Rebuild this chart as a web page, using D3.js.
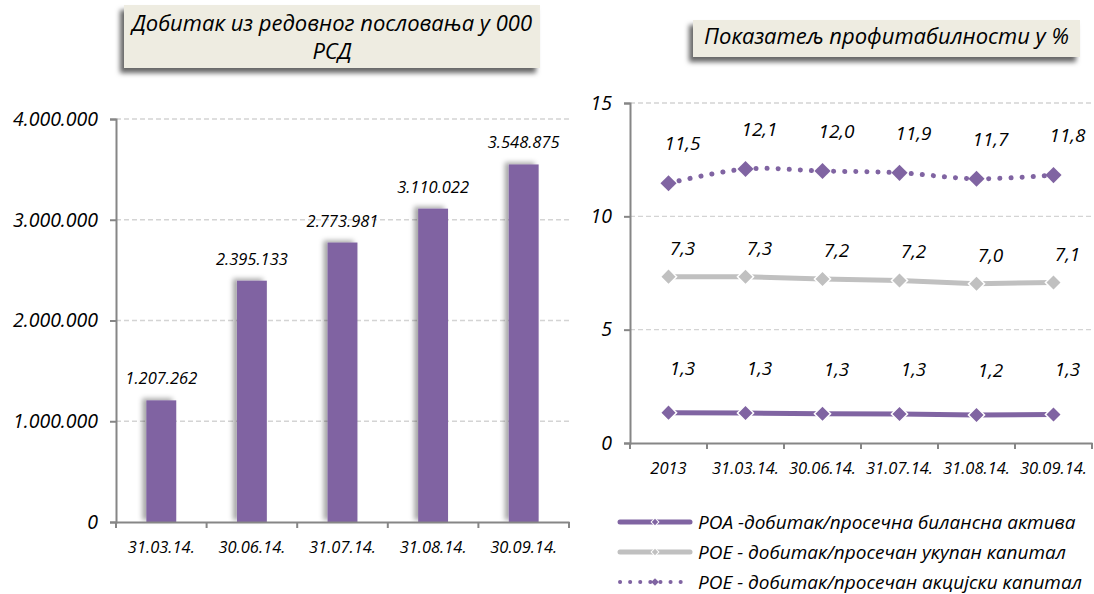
<!DOCTYPE html>
<html>
<head>
<meta charset="utf-8">
<script src="https://cdn.jsdelivr.net/npm/d3@7"></script>
<style>
  body { margin: 0; background: #fff; }
  text { font-family: "Open Sans", "Noto Sans", sans-serif; font-style: italic; fill: #000; }
</style>
</head>
<body>
<div id="chart"></div>
<script>
// left chart data
const barDates = ["31.03.14.", "30.06.14.", "31.07.14.", "31.08.14.", "30.09.14."];
const profit = [1207262, 2395133, 2773981, 3110022, 3548875];
const profitTicks = [0, 1000000, 2000000, 3000000, 4000000];

// right chart data
const lineDates = ["2013", "31.03.14.", "30.06.14.", "31.07.14.", "31.08.14.", "30.09.14."];
const roa = [1.34, 1.32, 1.29, 1.28, 1.24, 1.26];
const roeTotal = [7.34, 7.33, 7.24, 7.17, 7.03, 7.08];
const roeShare = [11.46, 12.09, 12.0, 11.92, 11.66, 11.82];
const pctTicks = [0, 5, 10, 15];
const seriesNames = [
  "РОА -добитак/просечна билансна актива",
  "РОЕ - добитак/просечан укупан капитал",
  "РОЕ - добитак/просечан акцијски капитал"
];

const purple = "#8064A2", grey = "#C0C0C0", axisCol = "#868686", gridCol = "#D4D4D4";
const loc = d3.formatLocale({decimal: ",", thousands: ".", grouping: [3], currency: ["", ""]});
const fmtInt = loc.format(",d");
const fmt1 = loc.format(".1f");

const width = 1094, height = 594;
const svg = d3.select("#chart").append("svg")
  .attr("width", width).attr("height", height);

const defs = svg.append("defs");
defs.append("filter").attr("id", "barShadow").attr("x", "-50%").attr("y", "-10%").attr("width", "200%").attr("height", "120%")
  .append("feDropShadow").attr("dx", -4).attr("dy", -2).attr("stdDeviation", 2.5)
  .attr("flood-color", "#000").attr("flood-opacity", 0.35);
defs.append("filter").attr("id", "boxShadow").attr("x", "-10%").attr("y", "-20%").attr("width", "120%").attr("height", "150%")
  .append("feDropShadow").attr("dx", -4).attr("dy", 5).attr("stdDeviation", 2.5)
  .attr("flood-color", "#000").attr("flood-opacity", 0.6);

// ---------- title boxes ----------
function titleBox(x, y, w, h, lines, size) {
  const g = svg.append("g");
  g.append("rect").attr("x", x).attr("y", y).attr("width", w).attr("height", h)
    .attr("fill", "#EEECE1").attr("filter", "url(#boxShadow)");
  lines.forEach((t, i) => {
    g.append("text").attr("x", x + w / 2)
      .attr("y", lines.length === 1 ? y + 24 : y + 26 + i * 28)
      .attr("text-anchor", "middle").attr("font-size", size).text(t);
  });
}
titleBox(124, 5, 416, 63, ["Добитак из редовног пословања у 000", "РСД"], "22px");
titleBox(693, 20, 387, 37, ["Показатељ профитабилности у %"], "22px");

// ---------- left bar chart ----------
const xb = d3.scaleBand().domain(barDates).range([116, 569]);
const yb = d3.scaleLinear().domain([0, 4000000]).range([522, 119]);

const left = svg.append("g");
left.selectAll(".grid").data(profitTicks.slice(1)).enter().append("line")
  .attr("x1", 116).attr("x2", 569).attr("y1", d => yb(d)).attr("y2", d => yb(d))
  .attr("stroke", gridCol).attr("stroke-width", 1.3).attr("stroke-dasharray", "5,3");

const barW = xb.bandwidth() * 0.33;
left.selectAll(".bar").data(profit).enter().append("rect")
  .attr("x", (d, i) => xb(barDates[i]) + (xb.bandwidth() - barW) / 2)
  .attr("y", d => yb(d)).attr("width", barW).attr("height", d => yb(0) - yb(d))
  .attr("fill", purple).attr("filter", "url(#barShadow)");

left.selectAll(".blab").data(profit).enter().append("text")
  .attr("x", (d, i) => xb(barDates[i]) + xb.bandwidth() / 2)
  .attr("y", d => yb(d) - 16)
  .attr("text-anchor", "middle").attr("font-size", "16.5px").text(d => fmtInt(d));

const yAxisL = left.append("g").attr("transform", "translate(116,0)")
  .call(d3.axisLeft(yb).tickValues(profitTicks).tickFormat(fmtInt).tickSize(6).tickPadding(12));
const xAxisL = left.append("g").attr("transform", "translate(0,522)")
  .call(d3.axisBottom(xb).tickSize(0).tickPadding(19));
left.append("g").selectAll("line").data(d3.range(barDates.length + 1)).enter().append("line")
  .attr("x1", i => 116 + i * xb.step()).attr("x2", i => 116 + i * xb.step())
  .attr("y1", 522).attr("y2", 528).attr("stroke", axisCol).attr("stroke-width", 2);

// ---------- right line chart ----------
const xl = d3.scaleBand().domain(lineDates).range([630, 1092]);
const yl = d3.scaleLinear().domain([0, 15]).range([443, 103]);
const cx = d => xl(d) + xl.bandwidth() / 2;

const right = svg.append("g");
right.selectAll(".grid").data(pctTicks.slice(1)).enter().append("line")
  .attr("x1", 630).attr("x2", 1092).attr("y1", d => yl(d)).attr("y2", d => yl(d))
  .attr("stroke", gridCol).attr("stroke-width", 1.3).attr("stroke-dasharray", "5,3");

const yAxisR = right.append("g").attr("transform", "translate(630,0)")
  .call(d3.axisLeft(yl).tickValues(pctTicks).tickSize(6).tickPadding(12));
const xAxisR = right.append("g").attr("transform", "translate(0,443)")
  .call(d3.axisBottom(xl).tickSize(0).tickPadding(19));
right.append("g").selectAll("line").data(d3.range(lineDates.length + 1)).enter().append("line")
  .attr("x1", i => 630 + i * xl.step()).attr("x2", i => 630 + i * xl.step())
  .attr("y1", 443).attr("y2", 449).attr("stroke", axisCol).attr("stroke-width", 2);

[yAxisL, xAxisL, yAxisR, xAxisR].forEach(a => {
  a.select(".domain").attr("stroke", axisCol).attr("stroke-width", 2);
  a.selectAll(".tick line").attr("stroke", axisCol).attr("stroke-width", 2);
  a.selectAll("text").attr("font-family", null).attr("fill", "#000");
});
yAxisL.selectAll("text").attr("font-size", "19.5px");
xAxisL.selectAll("text").attr("font-size", "16.5px");
yAxisR.selectAll("text").attr("font-size", "19.5px");
xAxisR.selectAll("text").attr("font-size", "16.5px");

const series = [
  {vals: roa, color: purple, dash: null, width: 5, curve: d3.curveLinear, stroke: "#fff", dy: -38},
  {vals: roeTotal, color: grey, dash: null, width: 5, curve: d3.curveLinear, stroke: "#fff", dy: -22},
  {vals: roeShare, color: purple, dash: "0.1,11", width: 5, curve: d3.curveCatmullRom, stroke: "none", dy: -33}
];

series.forEach(s => {
  const line = d3.line().x((d, i) => cx(lineDates[i])).y(d => yl(d)).curve(s.curve);
  right.append("path").datum(s.vals).attr("d", line)
    .attr("fill", "none").attr("stroke", s.color).attr("stroke-width", s.width)
    .attr("stroke-linecap", "round").attr("stroke-dasharray", s.dash);
  right.selectAll(null).data(s.vals).enter().append("path")
    .attr("d", d3.symbol().type(d3.symbolSquare).size(130))
    .attr("transform", (d, i) => `translate(${cx(lineDates[i])},${yl(d)}) rotate(45)`)
    .attr("fill", s.color).attr("stroke", s.stroke).attr("stroke-width", 1.5);
  right.selectAll(null).data(s.vals).enter().append("text")
    .attr("x", (d, i) => cx(lineDates[i]) + 14).attr("y", d => yl(d) + s.dy)
    .attr("text-anchor", "middle").attr("font-size", "19px").text(d => fmt1(d));
});

// ---------- legend ----------
const legend = svg.append("g").attr("transform", "translate(620,522)");
series.forEach((s, i) => {
  const g = legend.append("g").attr("transform", `translate(0,${i * 30})`);
  g.append("line").attr("x1", 0).attr("x2", 70).attr("y1", 0).attr("y2", 0)
    .attr("stroke", s.color).attr("stroke-width", s.dash ? 4 : 5)
    .attr("stroke-linecap", "round").attr("stroke-dasharray", s.dash ? "0.1,10" : null);
  g.append("path").attr("d", d3.symbol().type(d3.symbolSquare).size(30))
    .attr("transform", "translate(35,0) rotate(45)")
    .attr("fill", s.color).attr("stroke", s.stroke).attr("stroke-width", 1);
  g.append("text").attr("x", 78).attr("y", 7).attr("font-size", "19px").text(seriesNames[i]);
});
</script>
</body>
</html>
